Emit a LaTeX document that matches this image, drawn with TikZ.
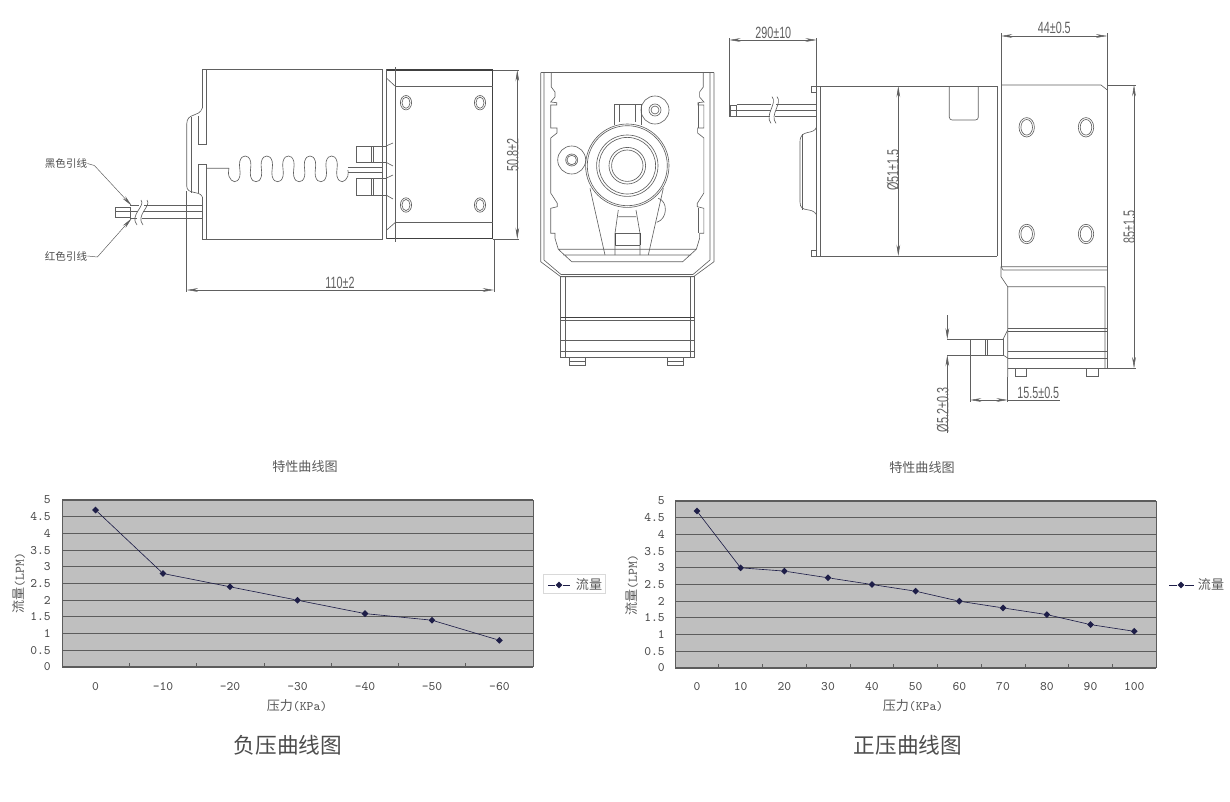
\documentclass[tikz,border=0pt]{standalone}
\usepackage{fontspec}
\usetikzlibrary{arrows.meta,shapes.geometric}
\newfontfamily\cjkfont{Noto Sans CJK SC}
\newfontfamily\dimfont[FakeStretch=0.66]{Liberation Sans}
\definecolor{partgrey}{HTML}{606060}
\definecolor{plotgrey}{HTML}{BFBFBF}
\definecolor{gridgrey}{HTML}{5C5C5C}
\definecolor{seriesblue}{HTML}{1E1E48}
\tikzset{
  part/.style={draw=partgrey,line width=.45pt},
  heavy/.style={draw=black!75,line width=.9pt},
  dimline/.style={draw=partgrey,line width=.35pt},
  dimarrow/.style={dimline,{Stealth[length=8pt,width=2.6pt]}-{Stealth[length=8pt,width=2.6pt]}},
  onearrow/.style={dimline,-{Stealth[length=8pt,width=2.6pt]}},
  dimtext/.style={font=\dimfont\fontsize{11.6}{12}\selectfont,text=partgrey,inner sep=0pt},
  cjktext/.style={font=\cjkfont\fontsize{9.3}{10}\selectfont,text=black!65,inner sep=0pt},
  leadtext/.style={font=\cjkfont\fontsize{7.5}{8}\selectfont,text=black!70,inner sep=0pt},
  axistext/.style={font=\ttfamily\fontsize{9.2}{10}\selectfont,text=black!70,inner sep=0pt},
  bigtitle/.style={font=\cjkfont\fontsize{15.4}{16}\selectfont,text=black!70,inner sep=0pt},
  gridline/.style={draw=gridgrey,line width=.8pt},
  tickline/.style={draw=gridgrey,line width=.5pt},
  seriesline/.style={draw=seriesblue,line width=.45pt},
  pointmark/.style={diamond,fill=seriesblue,inner sep=0pt,minimum size=5pt}
}
\begin{document}
\begin{tikzpicture}[x=0.025cm,y=-0.025cm]
\useasboundingbox (0,0) rectangle (1230,802);

\draw[part] (202.3,69.3) -- (206,69.3) -- (382.7,69.3) (206,239) -- (382.7,239);
\draw[part] (202.3,108) -- (202.3,69.3) (206,69.3) -- (206,144) -- (198.3,144) (198.3,164) -- (206,164) -- (206,239) -- (202.3,239) -- (202.3,196.7);
\draw[part] (202.3,108) .. controls (199,118) and (187,112) .. (186.7,124) -- (186.7,186) .. controls (187,195) and (199,190) .. (202.3,196.7);
\draw[part] (191.7,116.7) -- (191.7,193) (198.3,116) -- (198.3,144) (198.3,164) -- (198.3,193);
\draw[part] (382.7,69.3) -- (382.7,239) (386.7,69.3) -- (386.7,239);
\draw[heavy] (386.7,70) -- (492.7,70) -- (492.7,238.5) -- (386.7,238.5);
\draw[part] (395,67) -- (395,241.7) (395,86) -- (492.7,86) (395,222.7) -- (492.7,222.7);
\draw[part] (386.7,78.3) -- (395,86) (386.7,230) -- (395,222.7);
\draw[part] (406,102.7) ellipse [x radius=5.6,y radius=7.2] (406,102.7) ellipse [x radius=4,y radius=5.6];
\draw[part] (480,102.7) ellipse [x radius=5.6,y radius=7.2] (480,102.7) ellipse [x radius=4,y radius=5.6];
\draw[part] (406,205) ellipse [x radius=5.6,y radius=7.2] (406,205) ellipse [x radius=4,y radius=5.6];
\draw[part] (480,205) ellipse [x radius=5.6,y radius=7.2] (480,205) ellipse [x radius=4,y radius=5.6];

\draw[part] (206,168.3) -- (229,168.3) plot[smooth,tension=.75] coordinates {(229,168.3) (229,176.3) (234.4,181.7) (239.8,176.3) (239.8,161.5) (245.2,156) (250.6,161.5) (250.6,176.3) (256,181.7) (261.4,176.3) (261.4,161.5) (266.8,156) (272.2,161.5) (272.2,176.3) (277.6,181.7) (283,176.3) (283,161.5) (288.4,156) (293.8,161.5) (293.8,176.3) (299.2,181.7) (304.6,176.3) (304.6,161.5) (310,156) (315.4,161.5) (315.4,176.3) (320.8,181.7) (326.2,176.3) (326.2,161.5) (331.6,156) (337,161.5) (337,176.3) (342.4,181.7) (347.8,176.3) (347.8,170)};
\draw[part] (347.8,167) -- (382.7,167) (347.8,172) -- (382.7,172);
\draw[part] (356,146) rectangle (386,162.3) (371,146) -- (371,162.3) (373,146) -- (373,162.3);
\draw[part] (386,146) -- (393,143) (386,162.3) -- (393,166);
\draw[part] (356,178.3) rectangle (386,195) (371,178.3) -- (371,195) (373,178.3) -- (373,195);
\draw[part] (386,178.3) -- (393,175) (386,195) -- (393,199);

\draw[part] (130,205.7) -- (139,205.7) (144,205.7) -- (202.3,205.7) (130,211.7) -- (138,211.7) (143,211.7) -- (202.3,211.7) (130,218.3) -- (137,218.3) (142,218.3) -- (202.3,218.3);
\draw[part] (115,207) rectangle (130,217) (115,211.7) -- (130,211.7);
\draw[part] (141,200) .. controls (146,206) and (129,215) .. (137,225);
\draw[part] (147,200) .. controls (152,206) and (135,215) .. (143,225);

\node[leadtext] (blacklead) at (66,163.5) {黑色引线};
\node[leadtext] (redlead) at (66,256) {红色引线};
\coordinate (blacktip) at (131.7,205.7);
\coordinate (redtip) at (131.7,218.3);
\draw[onearrow] (blacklead.east) -- ++(7,2) -- (blacktip);
\draw[onearrow] (redlead.east) -- ++(10,1) -- (redtip);

\draw[dimline] (186.7,191) -- (186.7,292) (494,239) -- (494,292);
\draw[dimarrow] (186.7,290) -- (494,290);
\node[dimtext] (110) at (340,283) {110±2};
\draw[dimline] (492.7,70) -- (519,70) (492.7,239) -- (519,239);
\draw[dimarrow] (517.3,70) -- (517.3,239);
\node[dimtext,rotate=90] (508) at (512.7,155) {50.8±2};

\draw[part] (540.7,72.7) -- (714,72.7);
\draw[part] (540.7,72.7) -- (540.7,261.7) -- (560.7,276.7) -- (693.5,276.7) -- (714,261.7) -- (714,72.7);
\draw[part] (544,72.7) -- (544,260) -- (561,274.5) -- (693,274.5) -- (710,260) -- (710,72.7);
\draw[part] (551.3,72.7) -- (551.3,87) -- (555,92) -- (555,97) -- (550.7,102) -- (556.7,102.7) -- (556.7,105) -- (550.7,105) -- (550.7,128) -- (557,128) -- (557,133) -- (550.7,138) -- (550.7,193) -- (557.3,203.3) -- (557.3,206.7) -- (550.7,208.3) -- (550.7,233.3) -- (555,233.3) -- (555,238.3) -- (558.3,249.3);
\draw[part] (703.3,72.7) -- (703.3,87) -- (699.6,92) -- (699.6,97) -- (703.9,102) -- (697.9,102.7) -- (697.9,105) -- (703.9,105) -- (703.9,128) -- (697.6,128) -- (697.6,133) -- (703.9,138) -- (703.9,193) -- (697.3,203.3) -- (697.3,206.7) -- (703.9,208.3) -- (703.9,233.3) -- (699.6,233.3) -- (699.6,238.3) -- (696.3,249.3);
\draw[part] (558.3,249.3) -- (696.3,249.3) (558.3,249.3) -- (571.7,261.7) -- (682.7,261.7) -- (696.3,249.3) (563.3,255) -- (691,255);
\draw[part] (698,103) -- (698,128) (698,208) -- (698,233);
\draw[part] (658.3,198.3) .. controls (668,201) and (668,219) .. (656.7,222.3);
\draw[part] (614,125) -- (614,104.3) -- (641,104.3) -- (641,125) (619.3,104.3) -- (619.3,122) (635.7,104.3) -- (635.7,122);
\draw[part] (590,188.3) -- (605,255) (663.3,188.3) -- (648.3,255);
\draw[part] (618.3,210) -- (615,233.3) -- (615,255) (636,210) -- (640,233.3) -- (640,255) (618.3,216.7) -- (636,216.7);
\draw[part] (615,233.3) -- (640,233.3) (615,245) -- (640,245);
\draw[draw=black!70,line width=.7pt] (615,233.3) -- (615,245) (640,233.3) -- (640,245);
\draw[part,fill=white] (627.3,165.7) circle [radius=41.7];
\draw[part] (627.3,165.7) circle [radius=40] (627.3,165.7) circle [radius=30.7] (627.3,165.7) circle [radius=28.3] (627.3,165.7) circle [radius=18.3] (627.3,165.7) circle [radius=15.7];
\draw[part] (571.7,160) circle [radius=14] (571.7,160) circle [radius=6] (571.7,160) circle [radius=4.7];
\draw[part] (655,110) circle [radius=14] (655,110) circle [radius=6] (655,110) circle [radius=4];
\draw[part] (560.7,276.7) rectangle (694,357.3) (565,276.7) -- (565,357.3) (690,276.7) -- (690,357.3);
\draw[heavy] (560.7,317.3) -- (694,317.3);
\draw[part] (560.7,320.7) -- (694,320.7) (560.7,340.7) -- (694,340.7) (560.7,351.7) -- (694,351.7);
\draw[part] (569.3,357.3) rectangle (585.3,365) (569.3,361) -- (585.3,361);
\draw[part] (667.3,357.3) rectangle (683.3,365) (667.3,361) -- (683.3,361);

\draw[part] (816.7,86) rectangle (820.7,256) (820.7,86) -- (997.3,86) (820.7,256) -- (997.3,256) (997.3,86) -- (997.3,256);
\draw[part] (811.7,86.7) rectangle (816.7,92.7) (811.7,250) rectangle (816.7,256);
\draw[part] (816.7,126.7) .. controls (814,136) and (800,128) .. (800,142) -- (800,202) .. controls (800,214) and (812,206) .. (816.7,215);
\draw[part] (802.7,134) -- (802.7,210);
\draw[part] (736.7,104) -- (771,104) (776,104) -- (816.7,104) (736.7,110) -- (771,110) (776,110) -- (816.7,110) (736.7,116.7) -- (770,116.7) (775,116.7) -- (816.7,116.7);
\draw[part] (730,105) rectangle (736.7,116) (730,110) -- (736.7,110);
\draw[part] (772,96.7) .. controls (778,103) and (764,115) .. (771,123.3);
\draw[part] (777,96.7) .. controls (783,103) and (769,115) .. (776,123.3);
\draw[part,rounded corners=2pt] (949.3,86.7) -- (949.3,120) -- (978.3,120) -- (978.3,86.7);
\draw[part] (1001,85) -- (1001,266.7);
\draw[part] (1001,85) -- (1101,85) -- (1107.3,90);
\draw[part] (1001,266.7) -- (1003,270) -- (1107.3,270) (1001,266.7) -- (1107.3,266.7);
\draw[part] (1026.7,127.3) ellipse [x radius=7.7,y radius=9.7] (1026.7,127.3) ellipse [x radius=5.8,y radius=7.8];
\draw[part] (1086,127.3) ellipse [x radius=7.7,y radius=9.7] (1086,127.3) ellipse [x radius=5.8,y radius=7.8];
\draw[part] (1026.7,234) ellipse [x radius=7.7,y radius=9.7] (1026.7,234) ellipse [x radius=5.8,y radius=7.8];
\draw[part] (1086,234) ellipse [x radius=7.7,y radius=9.7] (1086,234) ellipse [x radius=5.8,y radius=7.8];
\draw[part] (1001,266.7) -- (1001,276.7) -- (1007.7,286.7) -- (1105,286.7) (1007.7,286.7) -- (1007.7,377) (1105,286.7) -- (1105,368.3);
\draw[part] (1007.7,328.3) -- (1107.3,328.3) (1007.7,358) -- (1107.3,358) (1007.7,351.7) -- (1107.3,351.7) (1007.7,368.3) -- (1107.3,368.3);
\draw[draw=black!65,line width=.7pt] (1007.7,331) -- (1107.3,331);
\draw[part] (1015,368.3) rectangle (1026.7,376.7) (1086,368.3) rectangle (1098.3,376.7);
\draw[part] (970,339.3) rectangle (1003,355) (985,339.3) -- (985,355) (987.7,339.3) -- (987.7,355);
\draw[part] (1003,339.3) -- (1007.7,330) (1003,355) -- (1007.7,358);

\draw[dimline] (729.3,38) -- (729.3,116.7) (816.7,38) -- (816.7,86);
\draw[dimarrow] (729.3,40) -- (816.7,40);
\node[dimtext] (290) at (773.3,32.7) {290±10};
\draw[dimline] (1001,33) -- (1001,85) (1107.3,33) -- (1107.3,368.3);
\draw[dimarrow] (1001,36) -- (1107.3,36);
\node[dimtext] (44) at (1054.3,28.3) {44±0.5};
\draw[dimarrow] (898.3,86) -- (898.3,256);
\node[dimtext,rotate=90] (51) at (893,170) {Ø51±1.5};
\draw[dimline] (1107.3,85) -- (1136,85) (1107.3,368.3) -- (1136,368.3);
\draw[dimarrow] (1134,85) -- (1134,368.3);
\node[dimtext,rotate=90] (85) at (1129.3,226.7) {85±1.5};
\draw[dimline] (947.3,339.3) -- (970,339.3) (947.3,355) -- (970,355);
\coordinate (gaptop) at (947.3,315);
\coordinate (gapupper) at (947.3,339.3);
\coordinate (gapbottom) at (947.3,433);
\coordinate (gaplower) at (947.3,355);
\draw[onearrow] (gaptop) -- (gapupper);
\draw[onearrow] (gapbottom) -- (gaplower);
\node[dimtext,rotate=90] (52) at (942.7,410) {Ø5.2±0.3};
\draw[dimline] (970,355) -- (970,402) (1007.7,377) -- (1007.7,402) (1007.7,400) -- (1060,400);
\draw[dimarrow] (970,400) -- (1007.7,400);
\node[dimtext] (155) at (1038.3,393.3) {15.5±0.5};

\fill[plotgrey] (62,500) rectangle (533,667);
\draw[gridline] (62,500) -- (533,500) (62,516.7) -- (533,516.7) (62,533.4) -- (533,533.4) (62,550.1) -- (533,550.1) (62,566.8) -- (533,566.8) (62,583.5) -- (533,583.5) (62,600.2) -- (533,600.2) (62,616.9) -- (533,616.9) (62,633.6) -- (533,633.6) (62,650.3) -- (533,650.3) (62,667) -- (533,667);
\draw[tickline] (62,500) -- (62,667) (533,500) -- (533,667);
\draw[tickline] (129.3,667) -- (129.3,663) (196.6,667) -- (196.6,663) (263.9,667) -- (263.9,663) (331.1,667) -- (331.1,663) (398.4,667) -- (398.4,663) (465.7,667) -- (465.7,663);

\node[pointmark] (a0) at (95.6,510) {};
\node[pointmark] (a1) at (163,573.5) {};
\node[pointmark] (a2) at (230,586.8) {};
\node[pointmark] (a3) at (297.5,600.2) {};
\node[pointmark] (a4) at (365,613.6) {};
\node[pointmark] (a5) at (432,620.2) {};
\node[pointmark] (a6) at (499.4,640.3) {};
\draw[seriesline] (a0) -- (a1) -- (a2) -- (a3) -- (a4) -- (a5) -- (a6);

\node[axistext,anchor=east] (y50) at (51,500) {5};
\node[axistext,anchor=east] (y45) at (51,516.7) {4.5};
\node[axistext,anchor=east] (y40) at (51,533.4) {4};
\node[axistext,anchor=east] (y35) at (51,550.1) {3.5};
\node[axistext,anchor=east] (y30) at (51,566.8) {3};
\node[axistext,anchor=east] (y25) at (51,583.5) {2.5};
\node[axistext,anchor=east] (y20) at (51,600.2) {2};
\node[axistext,anchor=east] (y15) at (51,616.9) {1.5};
\node[axistext,anchor=east] (y10) at (51,633.6) {1};
\node[axistext,anchor=east] (y05) at (51,650.3) {0.5};
\node[axistext,anchor=east] (y00) at (51,667) {0};

\node[axistext] (x0) at (95.6,687) {0};
\node[axistext] (x1) at (163,687) {-10};
\node[axistext] (x2) at (230,687) {-20};
\node[axistext] (x3) at (297.5,687) {-30};
\node[axistext] (x4) at (365,687) {-40};
\node[axistext] (x5) at (432,687) {-50};
\node[axistext] (x6) at (499.4,687) {-60};

\node[cjktext] (title1) at (305,467) {特性曲线图};
\node[cjktext] (xlabel1) at (297,706) {压力{\ttfamily(KPa)}};
\node[cjktext,rotate=90] (ylabel1) at (19,583) {流量{\ttfamily(LPM)}};
\node[bigtitle] (name1) at (288,745) {负压曲线图};

\draw[draw=black!15,fill=white,line width=.5pt] (543,574) rectangle (605,593);
\node[pointmark] (key1) at (559,585) {};
\coordinate (key1a) at (548,585);
\coordinate (key1b) at (570,585);
\draw[seriesline] (key1a) -- (key1) -- (key1b);
\node[cjktext] (keytext1) at (589,585) {流量};

\fill[plotgrey] (675,501) rectangle (1156,668);
\draw[gridline] (675,501) -- (1156,501) (675,517.7) -- (1156,517.7) (675,534.4) -- (1156,534.4) (675,551.1) -- (1156,551.1) (675,567.8) -- (1156,567.8) (675,584.5) -- (1156,584.5) (675,601.2) -- (1156,601.2) (675,617.9) -- (1156,617.9) (675,634.6) -- (1156,634.6) (675,651.3) -- (1156,651.3) (675,668) -- (1156,668);
\draw[tickline] (675,501) -- (675,668) (1156,501) -- (1156,668);
\draw[tickline] (718.7,668) -- (718.7,664) (762.5,668) -- (762.5,664) (806.2,668) -- (806.2,664) (849.9,668) -- (849.9,664) (893.6,668) -- (893.6,664) (937.5,668) -- (937.5,664) (981.1,668) -- (981.1,664) (1024.9,668) -- (1024.9,664) (1068.6,668) -- (1068.6,664) (1112.4,668) -- (1112.4,664);

\node[pointmark] (b0) at (696.9,511) {};
\node[pointmark] (b1) at (740.6,567.8) {};
\node[pointmark] (b2) at (784.4,571.1) {};
\node[pointmark] (b3) at (828,577.8) {};
\node[pointmark] (b4) at (871.9,584.5) {};
\node[pointmark] (b5) at (915.6,591.2) {};
\node[pointmark] (b6) at (959.3,601.2) {};
\node[pointmark] (b7) at (1003,607.9) {};
\node[pointmark] (b8) at (1046.8,614.6) {};
\node[pointmark] (b9) at (1090.5,624.6) {};
\node[pointmark] (b10) at (1134.2,631.3) {};
\draw[seriesline] (b0) -- (b1) -- (b2) -- (b3) -- (b4) -- (b5) -- (b6) -- (b7) -- (b8) -- (b9) -- (b10);

\node[axistext,anchor=east] (z50) at (665,501) {5};
\node[axistext,anchor=east] (z45) at (665,517.7) {4.5};
\node[axistext,anchor=east] (z40) at (665,534.4) {4};
\node[axistext,anchor=east] (z35) at (665,551.1) {3.5};
\node[axistext,anchor=east] (z30) at (665,567.8) {3};
\node[axistext,anchor=east] (z25) at (665,584.5) {2.5};
\node[axistext,anchor=east] (z20) at (665,601.2) {2};
\node[axistext,anchor=east] (z15) at (665,617.9) {1.5};
\node[axistext,anchor=east] (z10) at (665,634.6) {1};
\node[axistext,anchor=east] (z05) at (665,651.3) {0.5};
\node[axistext,anchor=east] (z00) at (665,668) {0};

\node[axistext] (w0) at (696.9,687) {0};
\node[axistext] (w1) at (740.6,687) {10};
\node[axistext] (w2) at (784.4,687) {20};
\node[axistext] (w3) at (828,687) {30};
\node[axistext] (w4) at (871.9,687) {40};
\node[axistext] (w5) at (915.6,687) {50};
\node[axistext] (w6) at (959.3,687) {60};
\node[axistext] (w7) at (1003,687) {70};
\node[axistext] (w8) at (1046.8,687) {80};
\node[axistext] (w9) at (1090.5,687) {90};
\node[axistext] (w10) at (1134.2,687) {100};

\node[cjktext] (title2) at (922,468) {特性曲线图};
\node[cjktext] (xlabel2) at (913,706) {压力{\ttfamily(KPa)}};
\node[cjktext,rotate=90] (ylabel2) at (632,585) {流量{\ttfamily(LPM)}};
\node[bigtitle] (name2) at (908,745) {正压曲线图};

\node[pointmark] (key2) at (1181,585) {};
\coordinate (key2a) at (1169,585);
\coordinate (key2b) at (1194,585);
\draw[seriesline] (key2a) -- (key2) -- (key2b);
\node[cjktext] (keytext2) at (1211,585) {流量};
\end{tikzpicture}
\end{document}
